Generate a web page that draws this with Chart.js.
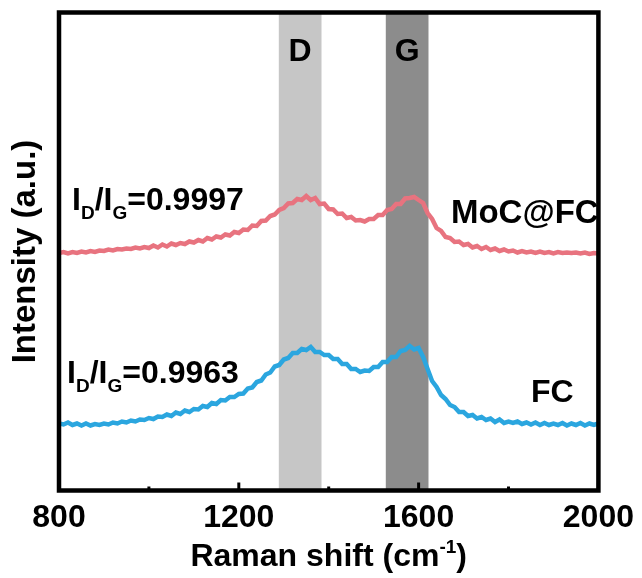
<!DOCTYPE html>
<html lang="en">
<head>
<meta charset="UTF-8">
<title>Raman spectra</title>
<script src="https://cdn.jsdelivr.net/npm/chart.js"></script>
<style>
  body { margin: 0; background: #fff; }
</style>
</head>
<body>
<canvas id="myChart" width="642" height="578"></canvas>
<script>
// Raman shift (cm-1)
const shift = [
  800, 810, 820, 830, 840, 850, 860, 870, 880, 890,
  900, 910, 920, 930, 940, 950, 960, 970, 980, 990,
  1000, 1010, 1020, 1030, 1040, 1050, 1060, 1070, 1080, 1090,
  1100, 1110, 1120, 1130, 1140, 1150, 1160, 1170, 1180, 1190,
  1200, 1210, 1220, 1230, 1240, 1250, 1260, 1270, 1280, 1290,
  1300, 1310, 1320, 1330, 1340, 1350, 1360, 1370, 1380, 1390,
  1400, 1410, 1420, 1430, 1440, 1450, 1460, 1470, 1480, 1490,
  1500, 1510, 1520, 1530, 1540, 1550, 1560, 1570, 1580, 1590,
  1600, 1610, 1620, 1630, 1640, 1650, 1660, 1670, 1680, 1690,
  1700, 1710, 1720, 1730, 1740, 1750, 1760, 1770, 1780, 1790,
  1800, 1810, 1820, 1830, 1840, 1850, 1860, 1870, 1880, 1890,
  1900, 1910, 1920, 1930, 1940, 1950, 1960, 1970, 1980, 1990,
  2000
];
// intensity (a.u., curves stacked with an offset)
const mocfc = [
  235, 236, 234.5, 236, 235, 236.5, 235.5, 237, 236, 237.5,
  237, 238.5, 237.5, 239, 238.5, 239.5, 239, 240.5, 239.5, 241,
  240, 242.5, 240.5, 243.5, 241.5, 244.5, 243, 245, 244, 246.5,
  245.5, 248, 246.5, 250, 248.5, 251.5, 250.5, 253.5, 252.5, 256,
  255, 258.5, 258, 262.5, 262, 267, 267.5, 272, 273.5, 278,
  280, 284.5, 285, 289, 288, 292, 288, 290, 284, 284.5,
  279, 278.5, 274, 274.5, 270, 271, 267.5, 268, 266.5, 269,
  269, 273, 273, 278, 279, 284, 284, 289.5, 290, 291,
  288, 285, 275, 269, 260, 257, 251, 250, 246, 246.5,
  243, 244, 240.5, 242, 239, 241, 238, 239.5, 237, 238.5,
  236.5, 237.5, 235.5, 237, 235.5, 236.5, 235, 236.5, 235, 236,
  234.5, 236, 235, 235.5, 235, 235.5, 234.5, 235.5, 234, 235,
  234.5
];
const fc = [
  64.5, 63.5, 65.5, 63, 64.5, 62.5, 64.5, 62.5, 64, 63,
  64.5, 63.5, 65.5, 64.5, 66.5, 65.5, 67.5, 66.5, 68.5, 68,
  70, 69, 71.5, 71, 73.5, 72, 75.5, 74, 77.5, 76,
  79, 78.5, 82, 81, 85, 84, 88, 87.5, 91, 91,
  94, 94.5, 99.5, 100.5, 106, 107.5, 113.5, 115.5, 121.5, 123,
  128.5, 130, 135, 135, 139, 138, 141, 136, 136, 133,
  133, 129, 129, 124, 124, 119, 119, 116, 117.5, 117,
  121, 121, 126, 126, 131, 131, 137, 138, 142, 138.5,
  140, 131, 119, 107, 101, 93, 89, 83, 81, 76,
  76, 72, 73, 69.5, 71, 68, 69.5, 66, 68.5, 65,
  66.5, 65, 66.5, 64, 65.5, 63.5, 65.5, 63, 65, 63,
  64.5, 63, 65, 62.5, 64.5, 63, 65, 62.5, 64.5, 63,
  64.5
];
const seriesNames = ['MoC@FC', 'FC'];
const ratios = ['0.9997', '0.9963'];
const xTicks = [800, 1200, 1600, 2000];
const xMinor = [1000, 1400, 1800];
const bandNames = ['D', 'G'];
const bandFrom = [1289, 1527];
const bandTo = [1384, 1622];

const fam = "'Liberation Sans', Arial, sans-serif";
const bandColors = ['#c6c6c6', '#8c8c8c'];

function drawRatio(ctx, x, y, val) {
  const big = 'bold 32px ' + fam, small = 'bold 19px ' + fam;
  const parts = [['I', big, 0], ['D', small, 9], ['/I', big, 0], ['G', small, 9], ['=' + val, big, 0]];
  parts.forEach(p => {
    ctx.font = p[1];
    ctx.fillText(p[0], x, y + p[2]);
    x += ctx.measureText(p[0]).width;
  });
}

const decor = {
  id: 'decor',
  beforeDatasetsDraw(chart) {
    const {ctx, chartArea: a, scales: {x}} = chart;
    ctx.save();
    bandFrom.forEach((f, i) => {
      const l = x.getPixelForValue(f), r = x.getPixelForValue(bandTo[i]);
      ctx.fillStyle = bandColors[i];
      ctx.fillRect(l, a.top, r - l, a.bottom - a.top);
    });
    ctx.restore();
  },
  afterDraw(chart) {
    const {ctx, chartArea: a, scales: {x, y}} = chart;
    ctx.save();
    ctx.fillStyle = '#000';
    ctx.strokeStyle = '#000';
    // inward ticks
    ctx.lineWidth = 3;
    xTicks.forEach(v => {
      const px = x.getPixelForValue(v);
      ctx.beginPath(); ctx.moveTo(px, a.bottom); ctx.lineTo(px, a.bottom - 8); ctx.stroke();
    });
    xMinor.forEach(v => {
      const px = x.getPixelForValue(v);
      ctx.beginPath(); ctx.moveTo(px, a.bottom); ctx.lineTo(px, a.bottom - 4); ctx.stroke();
    });
    // frame
    ctx.lineWidth = 4.5;
    ctx.strokeRect(a.left, a.top, a.right - a.left, a.bottom - a.top);

    ctx.textBaseline = 'alphabetic';
    // band letters
    ctx.font = 'bold 32px ' + fam;
    ctx.textAlign = 'center';
    bandNames.forEach((n, i) => {
      const cx = (x.getPixelForValue(bandFrom[i]) + x.getPixelForValue(bandTo[i])) / 2;
      ctx.fillText(n, cx, y.getPixelForValue(427));
    });
    // series names
    ctx.textAlign = 'left';
    ctx.font = 'bold 33px ' + fam;
    ctx.fillText(seriesNames[0], x.getPixelForValue(1672), y.getPixelForValue(265));
    ctx.font = 'bold 32px ' + fam;
    ctx.fillText(seriesNames[1], x.getPixelForValue(1850), y.getPixelForValue(86));
    // ID/IG ratios
    drawRatio(ctx, x.getPixelForValue(829), y.getPixelForValue(278), ratios[0]);
    drawRatio(ctx, x.getPixelForValue(818), y.getPixelForValue(105), ratios[1]);

    // x axis title with superscript
    const t1 = 'Raman shift (cm', t2 = '-1', t3 = ')';
    const big = 'bold 32px ' + fam, small = 'bold 19px ' + fam;
    ctx.font = big; const w1 = ctx.measureText(t1).width, w3 = ctx.measureText(t3).width;
    ctx.font = small; const w2 = ctx.measureText(t2).width;
    let tx = (a.left + a.right) / 2 - (w1 + w2 + w3) / 2;
    const ty = 566;
    ctx.font = big; ctx.fillText(t1, tx, ty); tx += w1;
    ctx.font = small; ctx.fillText(t2, tx, ty - 13); tx += w2;
    ctx.font = big; ctx.fillText(t3, tx, ty);
    ctx.restore();
  }
};

const data = {
  labels: shift,
  datasets: [
    { label: seriesNames[0], data: shift.map((s, i) => ({x: s, y: mocfc[i]})), borderColor: '#e8737f', borderWidth: 4.5 },
    { label: seriesNames[1], data: shift.map((s, i) => ({x: s, y: fc[i]})), borderColor: '#2ba6df', borderWidth: 4.5 }
  ]
};

const config = {
  type: 'line',
  data: data,
  options: {
    responsive: false,
    animation: false,
    devicePixelRatio: 1,
    layout: { padding: { left: 0, right: 42.5, top: 12.5, bottom: 0 } },
    elements: { point: { radius: 0 }, line: { tension: 0 } },
    plugins: { legend: { display: false }, tooltip: { enabled: false } },
    scales: {
      x: {
        type: 'linear',
        min: 800,
        max: 2000,
        grid: { display: false, drawTicks: false },
        border: { display: false },
        afterBuildTicks: s => { s.ticks = xTicks.map(v => ({value: v})); },
        afterFit: s => { s.height = 87.5; },
        ticks: {
          autoSkip: false,
          maxRotation: 0,
          padding: 8,
          color: '#000',
          callback: v => String(v),
          font: { family: fam, size: 32, weight: 'bold' }
        }
      },
      y: {
        min: -2.5,
        max: 475.5,
        grid: { display: false, drawTicks: false },
        border: { display: false },
        ticks: { display: false },
        afterFit: s => { s.width = 59; },
        title: {
          display: true,
          text: 'Intensity (a.u.)',
          color: '#000',
          padding: { top: 6, bottom: 0 },
          font: { family: fam, size: 33, weight: 'bold' }
        }
      }
    }
  },
  plugins: [decor]
};

new Chart(document.getElementById('myChart'), config);
</script>
</body>
</html>
